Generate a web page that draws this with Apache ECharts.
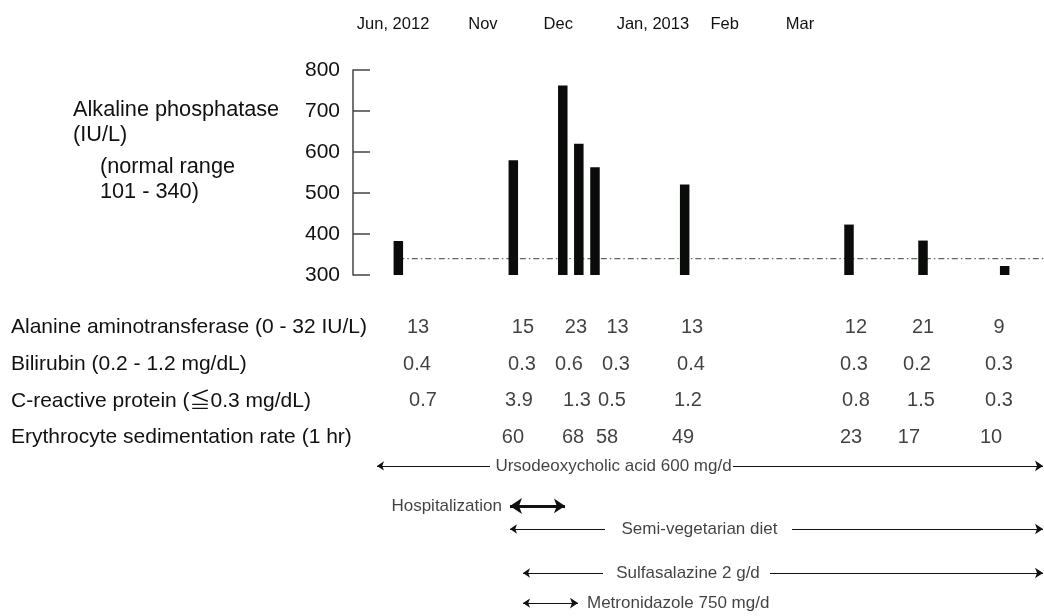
<!DOCTYPE html>
<html>
<head>
<meta charset="utf-8">
<title>ALP course</title>
<script src="https://cdn.jsdelivr.net/npm/echarts@6/dist/echarts.min.js"></script>
<style>
html,body{margin:0;padding:0;background:#fff;}
#main{width:1044px;height:616px;}
</style>
</head>
<body>
<div id="main"></div>
<script>
// 横轴: 0-100 的示意时间刻度 (原图不是等比例时间)
var monthNames = ['Jun, 2012', 'Nov', 'Dec', 'Jan, 2013', 'Feb', 'Mar'];
var monthPos = [5.8, 18.8, 29.7, 43.4, 53.8, 64.7];

// ALP 柱
var visitPos = [6.56, 23.2, 30.36, 32.68, 35.02, 48.0, 71.78, 82.49, 94.31];
var alpValues = [383, 580, 762, 620, 563, 521, 423, 384, 322];
var alpUpperLimit = 340;
var alpTicks = [300, 400, 500, 600, 700, 800];
var alpTitle = ['Alkaline phosphatase', '(IU/L)', '(normal range', '101 - 340)'];

// 化验表格
var labRows = ['Alanine aminotransferase (0 - 32 IU/L)', 'Bilirubin (0.2 - 1.2 mg/dL)', 'C-reactive protein (\u22660.3 mg/dL)', 'Erythrocyte sedimentation rate (1 hr)'];
var altValues = [13, 15, 23, 13, 13, 12, 21, 9];
var altPos = [9.41, 24.6, 32.27, 38.28, 49.06, 72.79, 82.49, 93.49];
var biliValues = [0.4, 0.3, 0.6, 0.3, 0.4, 0.3, 0.2, 0.3];
var biliPos = [9.26, 24.46, 31.26, 38.06, 48.91, 72.5, 81.62, 93.49];
var crpValues = [0.7, 3.9, 1.3, 0.5, 1.2, 0.8, 1.5, 0.3];
var crpPos = [10.13, 24.02, 32.42, 37.48, 48.48, 72.79, 82.2, 93.49];
var esrValues = [60, 68, 58, 49, 23, 17, 10];
var esrPos = [23.15, 31.84, 36.76, 47.76, 72.07, 80.46, 92.33];

// 治疗经过
var therapyNames = ['Ursodeoxycholic acid 600 mg/d', 'Hospitalization', 'Semi-vegetarian diet', 'Sulfasalazine 2 g/d', 'Metronidazole 750 mg/d'];
var therapyRow = [0.96, 3.37, 4.76, 7.41, 9.22];
var therapyStart = [3.47, 22.72, 22.72, 24.6, 24.6];
var therapyEnd = [99.86, 30.68, 99.86, 99.86, 32.56];
var therapyGapFrom = [19.83, null, 36.47, 36.18, null];
var therapyGapTo = [54.99, null, 63.53, 60.35, null];
var therapyTextPos = [37.7, 21.56, 50.14, 48.48, 33.86];
var therapyTextAlign = ['center', 'right', 'center', 'center', 'left'];

var font = "'Liberation Sans', Arial, 'Noto Sans CJK JP', sans-serif";

function tableData(pos, vals, row){
    var out = [];
    for (var i = 0; i < vals.length; i++) {
        out.push([pos[i], row, vals[i]]);
    }
    return out;
}

var segs = [];
var therapyText = [];
for (var i = 0; i < therapyNames.length; i++) {
    var y = therapyRow[i];
    var bold = therapyNames[i] == 'Hospitalization';
    var ls = {color: '#111', width: bold ? 3 : 1, opacity: 1, curveness: 0};
    var sz = bold ? [12, 11] : [7, 8];
    if (therapyGapFrom[i] != null) {
        segs.push({coords: [[therapyStart[i], y], [therapyGapFrom[i], y]], symbol: ['arrow', 'none'], symbolSize: sz, lineStyle: ls});
        segs.push({coords: [[therapyGapTo[i], y], [therapyEnd[i], y]], symbol: ['none', 'arrow'], symbolSize: sz, lineStyle: ls});
    } else {
        segs.push({coords: [[therapyStart[i], y], [therapyEnd[i], y]], symbol: ['arrow', 'arrow'], symbolSize: sz, lineStyle: ls});
    }
    therapyText.push({value: [therapyTextPos[i], y, therapyNames[i]], label: {align: therapyTextAlign[i]}});
}

// 左上角的 ALP 说明文字
var titleX = [73, 73, 100, 100];
var titleY = [108, 133, 165, 190];
var titleGraphic = alpTitle.map(function(t, i){
    return {
        type: 'text', left: titleX[i], top: titleY[i] - 9,
        style: {text: t, fontSize: 21.7, fontFamily: font, fill: '#111'}
    };
});

var hiddenX = function(idx){
    return {type: 'value', gridIndex: idx, min: 0, max: 100, show: false};
};

var myChart = echarts.init(document.getElementById('main'));
var option = {
    animation: false,
    textStyle: {fontFamily: font, color: '#111'},
    graphic: titleGraphic,
    grid: [
        {left: 353, right: 0, top: 70, height: 205},
        {left: 353, right: 0, top: 309, height: 147},
        {left: 353, right: 0, top: 450, height: 166}
    ],
    xAxis: [
        {
            type: 'value', gridIndex: 0, min: 0, max: 100, position: 'top',
            axisLine: {show: false},
            axisTick: {show: false},
            splitLine: {show: false},
            axisLabel: {
                customValues: monthPos,
                margin: 37,
                fontSize: 16.5,
                color: '#111',
                fontFamily: font,
                formatter: function(v){
                    var k = monthPos.indexOf(v);
                    return k >= 0 ? monthNames[k] : '';
                }
            }
        },
        hiddenX(1),
        hiddenX(2)
    ],
    yAxis: [
        {
            type: 'value', gridIndex: 0, min: 300, max: 800, interval: 100,
            axisLine: {show: true, lineStyle: {color: '#444', width: 1.5}},
            axisTick: {show: true, inside: true, length: 17, lineStyle: {color: '#444', width: 1.5}},
            splitLine: {show: false},
            axisLabel: {
                fontSize: 21, color: '#111', margin: 13, fontFamily: font,
                formatter: function(v){ return alpTicks.indexOf(v) >= 0 ? String(v) : ''; }
            }
        },
        {
            type: 'category', gridIndex: 1, data: labRows, inverse: true,
            axisLine: {show: false},
            axisTick: {show: false},
            axisLabel: {align: 'left', margin: 342, fontSize: 21, color: '#111', fontFamily: font}
        },
        {type: 'value', gridIndex: 2, min: 0, max: 10, inverse: true, show: false}
    ],
    series: [
        // 正常上限 340
        {
            type: 'line', xAxisIndex: 0, yAxisIndex: 0, z: 1,
            symbol: 'none', silent: true,
            lineStyle: {color: '#666', width: 1.2, type: [6, 3, 1.5, 3]},
            data: [[visitPos[0], alpUpperLimit], [100, alpUpperLimit]]
        },
        {
            type: 'bar', xAxisIndex: 0, yAxisIndex: 0, z: 3,
            barWidth: 9.5,
            itemStyle: {color: '#0a0c0a'},
            data: visitPos.map(function(p, i){ return [p, alpValues[i]]; })
        },
        {
            type: 'scatter', xAxisIndex: 1, yAxisIndex: 1,
            symbolSize: 1, itemStyle: {color: 'rgba(0,0,0,0)'},
            label: {
                show: true, position: 'inside', fontSize: 20, color: '#111', fontFamily: font,
                formatter: function(p){ return String(p.value[2]); }
            },
            data: [].concat(tableData(altPos, altValues, 0), tableData(biliPos, biliValues, 1), tableData(crpPos, crpValues, 2), tableData(esrPos, esrValues, 3))
        },
        {
            type: 'lines', coordinateSystem: 'cartesian2d', xAxisIndex: 2, yAxisIndex: 2,
            lineStyle: {color: '#111', width: 1, opacity: 1},
            data: segs
        },
        {
            type: 'scatter', xAxisIndex: 2, yAxisIndex: 2,
            symbolSize: 1, itemStyle: {color: 'rgba(0,0,0,0)'},
            label: {
                show: true, position: 'inside', fontSize: 17, color: '#111', fontFamily: font,
                formatter: function(p){ return p.value[2]; }
            },
            data: therapyText
        }
    ]
};
myChart.setOption(option);
</script>
</body>
</html>
